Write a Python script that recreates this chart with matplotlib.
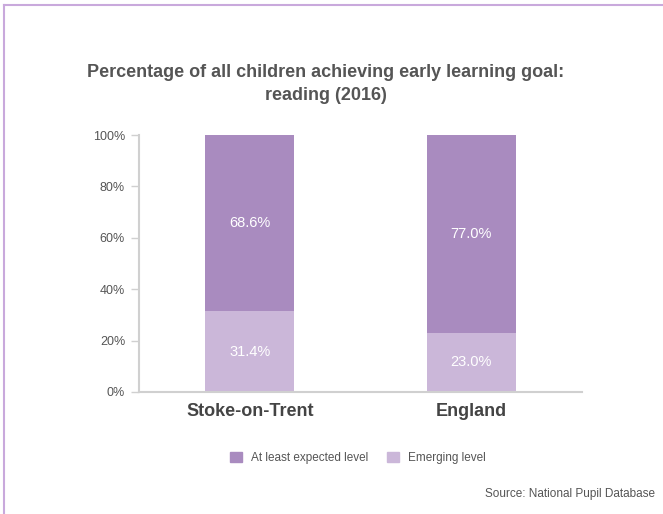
import matplotlib
matplotlib.use("Agg")
import matplotlib.pyplot as plt
from matplotlib.lines import Line2D
from matplotlib.patches import Patch

plt.rcParams['font.family'] = ['Liberation Sans', 'DejaVu Sans']

areas = ["Stoke-on-Trent", "England"]
emerging = [31.4, 23.0]
expected = [68.6, 77.0]
yticks = [0, 20, 40, 60, 80, 100]

c_expected = "#a98bbf"
c_emerging = "#cbb7d9"
grey = "#555555"

fig = plt.figure(figsize=(6.63, 5.14), dpi=100)
ax = fig.add_axes([139/663, 1 - 392/514, 443/663, 257/514])

x = range(len(areas))
ax.bar(x, emerging, width=0.4, color=c_emerging, label="Emerging level")
ax.bar(x, expected, width=0.4, bottom=emerging, color=c_expected,
       label="At least expected level")

for i in x:
    ax.text(i, emerging[i] / 2, f"{emerging[i]:.1f}%", ha="center", va="center",
            color="white", fontsize=10.5)
    ax.text(i, emerging[i] + expected[i] / 2, f"{expected[i]:.1f}%", ha="center",
            va="center", color="white", fontsize=10.5)

ax.set_xlim(-0.5, 1.5)
ax.set_ylim(0, 100)
ax.set_yticks(yticks)
ax.set_yticklabels([f"{t}%" for t in yticks], color=grey, fontsize=9)
ax.set_xticks(list(x))
ax.set_xticklabels(areas, fontsize=13, fontweight="bold", color="#444444")
ax.tick_params(axis="x", length=0, pad=8)
ax.tick_params(axis="y", length=6, color="#d0d0d0", width=1, pad=4)
for s in ["top", "right"]:
    ax.spines[s].set_visible(False)
for s in ["left", "bottom"]:
    ax.spines[s].set_color("#d0d0d0")
    ax.spines[s].set_linewidth(1.5)

fig.text(326/663, 1 - 84/514,
         "Percentage of all children achieving early learning goal:\nreading (2016)",
         ha="center", va="center", fontsize=13, fontweight="bold", color="#555555",
         linespacing=1.45)

handles = [Patch(color=c_expected), Patch(color=c_emerging)]
fig.legend(handles, ["At least expected level", "Emerging level"], loc="center",
           bbox_to_anchor=(358/663, 1 - 458/514), ncol=2, frameon=False,
           fontsize=8.5, handlelength=1.0, handleheight=1.0, columnspacing=1.6,
           handletextpad=0.8, labelcolor=grey)

fig.text(655/663, 1 - 494/514, "Source: National Pupil Database", ha="right",
         va="center", fontsize=8.5, color=grey)

# frame lines along the top and left edges
fig.add_artist(Line2D([4/663, 4/663], [0, 1 - 5/514], color="#c9a9dc", lw=1.5,
                      transform=fig.transFigure))
fig.add_artist(Line2D([4/663, 1], [1 - 5/514, 1 - 5/514], color="#c9a9dc", lw=1.5,
                      transform=fig.transFigure))

fig.savefig("out.png", dpi=100)
